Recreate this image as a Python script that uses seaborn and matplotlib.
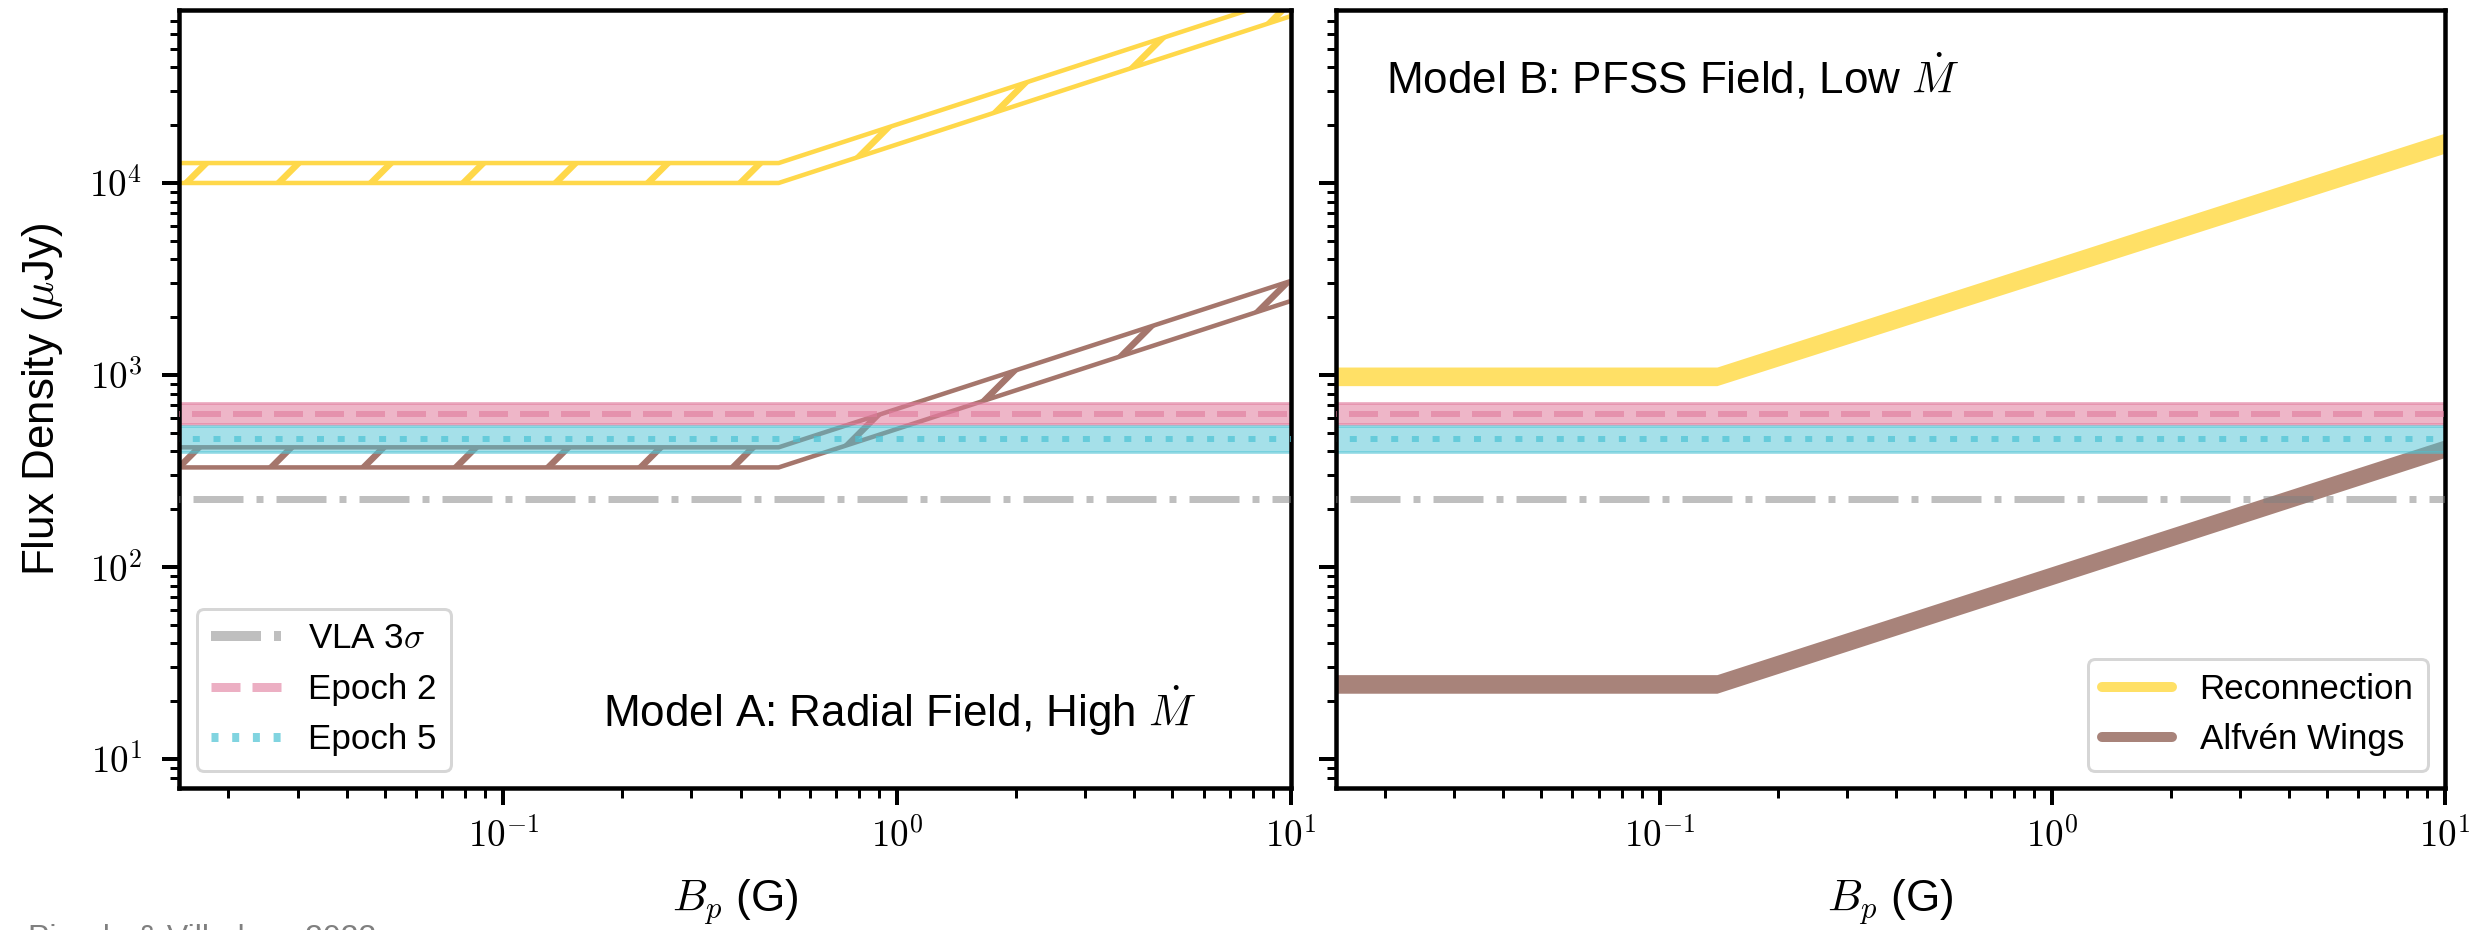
import numpy as np
import matplotlib
matplotlib.use("Agg")
import matplotlib.pyplot as plt
from matplotlib.lines import Line2D
from matplotlib.ticker import LogLocator, FuncFormatter, NullFormatter
import seaborn as sns

# ---------------------------------------------------------------------------
# Data
# ---------------------------------------------------------------------------
# Planetary field strength grid (G)
b_radial = [0.01, 0.5, 10.0]
b_pfss = [0.01, 0.14, 10.0]
b_obs = [0.01, 10.0]

# Model A (radial field, high mass-loss rate): predicted flux density ranges (uJy)
recon_a_low = [1.0e4, 1.0e4, 7.4e4]
recon_a_high = [1.27e4, 1.27e4, 9.4e4]
alfven_a_low = [330.0, 330.0, 2430.0]
alfven_a_high = [420.0, 420.0, 3090.0]

# Model B (PFSS field, low mass-loss rate)
recon_b_low = [880.0, 880.0, 14300.0]
recon_b_high = [1100.0, 1100.0, 18200.0]
alfven_b_low = [22.0, 22.0, 372.0]
alfven_b_high = [27.5, 27.5, 460.0]

# Observed levels (uJy)
vla_3sigma = 226.0
epoch2_flux, epoch2_low, epoch2_high = 627.0, 553.0, 718.0
epoch5_flux, epoch5_low, epoch5_high = 465.0, 398.0, 540.0

obs_labels = ["VLA 3$\\sigma$", "Epoch 2", "Epoch 5"]
model_labels = ["Reconnection", "Alfvén Wings"]
panel_titles = ["Model A: Radial Field, High $\\dot{M}$",
                "Model B: PFSS Field, Low $\\dot{M}$"]
xlabel = "$B_p$ (G)"
ylabel = "Flux Density ($\\mu$Jy)"
credit = "Pineda & Villadsen 2023"

# ---------------------------------------------------------------------------
# Style
# ---------------------------------------------------------------------------
DPI = 277
P = 72.0 / DPI          # one output pixel in points

YELLOW = "#ffe066"
YELLOW_HATCH = "#ffd84a"
BROWN = "#a8837a"
BROWN_HATCH = "#a5766c"
PINK = "#e07a9c"
CYAN = "#4cc3d4"
GREY = "gray"

sns.set_style("ticks")
plt.rcParams.update({
    "font.family": ["Liberation Sans", "DejaVu Sans"],
    "mathtext.fontset": "cm",
    "axes.edgecolor": "black",
    "axes.linewidth": 4.5 * P,
    "axes.labelcolor": "black",
    "text.color": "black",
    "xtick.color": "black",
    "ytick.color": "black",
    "xtick.direction": "out",
    "ytick.direction": "out",
    "xtick.major.size": 17 * P,
    "ytick.major.size": 17 * P,
    "xtick.minor.size": 10 * P,
    "ytick.minor.size": 9 * P,
    "xtick.major.width": 4 * P,
    "ytick.major.width": 4 * P,
    "xtick.minor.width": 3 * P,
    "ytick.minor.width": 3 * P,
    "xtick.major.pad": 14 * P,
    "ytick.major.pad": 20 * P,
    "hatch.linewidth": 6.5 * P,
    "lines.scale_dashes": False,
})

W, H = 2474, 930
fig = plt.figure(figsize=(W / DPI, H / DPI), dpi=DPI)
fig.patch.set_facecolor("white")
ax_a = fig.add_axes([179 / W, 142 / H, 1112 / W, 778 / H])
ax_b = fig.add_axes([1336 / W, 142 / H, 1109 / W, 778 / H])

VLA_STYLE = (0, (50 * P, 13 * P, 7 * P, 13 * P))
E2_STYLE = (0, (29 * P, 12 * P))
E5_STYLE = (0, (7 * P, 13.7 * P))

decade_fmt = FuncFormatter(lambda v, pos: "$10^{%d}$" % int(round(np.log10(v))))


def draw_observations(ax):
    ax.fill_between(b_obs, [epoch2_low] * 2, [epoch2_high] * 2, color=PINK,
                    alpha=0.55, lw=3 * P, zorder=2)
    ax.fill_between(b_obs, [epoch5_low] * 2, [epoch5_high] * 2, color=CYAN,
                    alpha=0.5, lw=3 * P, zorder=2)
    sns.lineplot(x=b_obs, y=[epoch2_flux] * 2, ax=ax, color=PINK, alpha=0.6,
                 lw=6 * P, linestyle=E2_STYLE, zorder=3)
    sns.lineplot(x=b_obs, y=[epoch5_flux] * 2, ax=ax, color=CYAN, alpha=0.7,
                 lw=6 * P, linestyle=E5_STYLE, zorder=3)
    sns.lineplot(x=b_obs, y=[vla_3sigma] * 2, ax=ax, color=GREY, alpha=0.5,
                 lw=7 * P, linestyle=VLA_STYLE, zorder=3)


def style_axes(ax, show_ylabels):
    ax.set_xscale("log")
    ax.set_yscale("log")
    ax.set_xlim(0.015, 10)
    ax.set_ylim(7.06, 7.96e4)
    for axis in (ax.xaxis, ax.yaxis):
        axis.set_major_locator(LogLocator(base=10))
        axis.set_minor_locator(LogLocator(base=10, subs=np.arange(2, 10)))
        axis.set_major_formatter(decade_fmt)
        axis.set_minor_formatter(NullFormatter())
    ax.tick_params(axis="both", which="major", labelsize=37 * P)
    ax.tick_params(left=True, bottom=True, right=False, top=False,
                   labelleft=show_ylabels)
    for sp in ax.spines.values():
        sp.set_visible(True)
        sp.set_color("black")
        sp.set_linewidth(4.5 * P)
    ax.set_xlabel(xlabel, fontsize=44 * P, labelpad=22 * P)
    ax.set_facecolor("white")


# ---------------------------------------------------------------------------
# Panel A: hatched model ranges
# ---------------------------------------------------------------------------
style_axes(ax_a, True)
ax_a.fill_between(b_radial, recon_a_low, recon_a_high, facecolor="none",
                  edgecolor=YELLOW_HATCH, hatch="/", lw=4.5 * P, zorder=1)
ax_a.fill_between(b_radial, alfven_a_low, alfven_a_high, facecolor="none",
                  edgecolor=BROWN_HATCH, hatch="/", lw=4.5 * P, zorder=1)
draw_observations(ax_a)
ax_a.set_ylabel(ylabel, fontsize=44 * P, labelpad=24 * P)
ax_a.text(0.915, 0.078, panel_titles[0], transform=ax_a.transAxes,
          ha="right", va="baseline", fontsize=44 * P)

obs_handles = [
    Line2D([], [], color=GREY, alpha=0.5, lw=10 * P, linestyle=VLA_STYLE),
    Line2D([], [], color=PINK, alpha=0.6, lw=9 * P, linestyle=E2_STYLE),
    Line2D([], [], color=CYAN, alpha=0.7, lw=9 * P, linestyle=E5_STYLE),
]
leg_a = ax_a.legend(obs_handles, obs_labels, loc="lower left",
                    fontsize=35 * P, frameon=True, fancybox=True,
                    framealpha=0.8, edgecolor="0.8")
leg_a.get_frame().set_linewidth(3 * P)

# ---------------------------------------------------------------------------
# Panel B: solid model ranges
# ---------------------------------------------------------------------------
style_axes(ax_b, False)
ax_b.fill_between(b_pfss, recon_b_low, recon_b_high, color=YELLOW, lw=0,
                  zorder=1)
ax_b.fill_between(b_pfss, alfven_b_low, alfven_b_high, color=BROWN, lw=0,
                  zorder=1)
draw_observations(ax_b)
ax_b.set_ylabel("")
ax_b.text(0.045, 0.893, panel_titles[1], transform=ax_b.transAxes,
          ha="left", va="baseline", fontsize=44 * P)

model_handles = [
    Line2D([], [], color=YELLOW, lw=10 * P),
    Line2D([], [], color=BROWN, lw=10 * P),
]
leg_b = ax_b.legend(model_handles, model_labels, loc="lower right",
                    fontsize=35 * P, frameon=True, fancybox=True,
                    framealpha=0.8, edgecolor="0.8")
leg_b.get_frame().set_linewidth(3 * P)

fig.text(28 / W, 6 / H, credit, ha="left", va="top", fontsize=32 * P,
         color="#808080")

fig.savefig("out.png", dpi=DPI, facecolor="white")
